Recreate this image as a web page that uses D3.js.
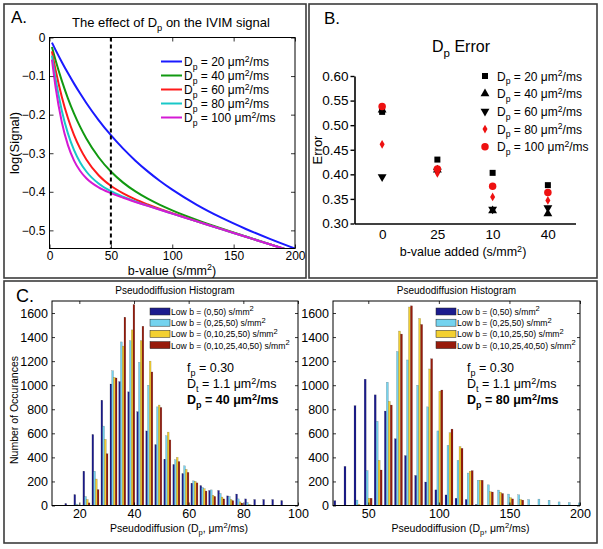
<!DOCTYPE html>
<html><head><meta charset="utf-8">
<script src="https://cdn.jsdelivr.net/npm/d3@7"></script>
<style>body{margin:0;background:#fff}svg{display:block;font-family:"Liberation Sans",Arial,sans-serif}</style>
</head><body>
<script>
// ---------- DATA ----------
// Panel A: log(Signal) vs b-value
const bValues = [2,5,10,15,20,25,30,40,50,60,70,80,90,100,120,140,160,180,200];
const logSignalDp20 = [-0.0133,-0.0326,-0.0633,-0.0923,-0.1196,-0.1454,-0.1697,-0.2140,-0.2533,-0.2882,-0.3193,-0.3471,-0.3720,-0.3945,-0.4338,-0.4672,-0.4964,-0.5227,-0.5471];
const logSignalDp40 = [-0.0248,-0.0596,-0.1119,-0.1576,-0.1973,-0.2318,-0.2618,-0.3104,-0.3475,-0.3762,-0.3991,-0.4179,-0.4339,-0.4480,-0.4727,-0.4949,-0.5158,-0.5363,-0.5565];
const logSignalDp60 = [-0.0360,-0.0847,-0.1535,-0.2088,-0.2530,-0.2881,-0.3162,-0.3570,-0.3845,-0.4043,-0.4198,-0.4328,-0.4446,-0.4555,-0.4764,-0.4966,-0.5167,-0.5367,-0.5567];
const logSignalDp80 = [-0.0468,-0.1080,-0.1890,-0.2485,-0.2921,-0.3239,-0.3474,-0.3787,-0.3985,-0.4129,-0.4250,-0.4359,-0.4463,-0.4565,-0.4767,-0.4967,-0.5167,-0.5367,-0.5567];
const logSignalDp100 = [-0.0574,-0.1296,-0.2189,-0.2790,-0.3192,-0.3462,-0.3649,-0.3886,-0.4036,-0.4155,-0.4263,-0.4365,-0.4467,-0.4567,-0.4767,-0.4967,-0.5167,-0.5367,-0.5567];
const dpLabels = ["20","40","60","80","100"];
const xTicksA = [0,50,100,150,200];
const yTicksA = [0,-0.1,-0.2,-0.3,-0.4,-0.5];
const markerB = 50;

// Panel B: Dp error
const errCategories = ["0","25","10","40"];
const errDp20 = [0.527,0.430,0.403,0.378];
const errDp40 = [0.531,0.409,0.326,0.320];
const errDp60 = [0.395,0.406,0.329,0.332];
const errDp80 = [0.461,0.402,0.354,0.347];
const errDp100 = [0.538,0.411,0.376,0.363];
const yTicksB = [0.30,0.35,0.40,0.45,0.50,0.55,0.60];

// Panel C: histograms
const lowBLabels = ["(0,50)","(0,25,50)","(0,10,25,50)","(0,10,25,40,50)"];
const binsLeft = [16.0,19.3,22.6,25.9,29.2,32.5,35.7,39.0,42.3,45.6,48.9,52.2,55.5,58.8,62.1,65.4,68.6,71.9,75.2,78.5,81.8,85.1,88.4,91.7,95.0];
const countLeftB050 = [16,90,285,590,875,1010,1030,945,780,620,505,385,340,265,185,165,125,125,80,95,55,50,50,50,40];
const countLeftB02550 = [0,12,75,285,660,1120,1360,1370,1190,1000,820,580,380,330,205,150,130,100,75,55,25,0,0,0,0];
const countLeftB0102550 = [0,5,50,220,550,1065,1325,1460,1370,1200,835,610,400,300,200,140,85,70,50,30,10,0,0,0,0];
const countLeftB010254050 = [0,0,22,132,430,1060,1565,1670,1490,1110,815,545,365,275,188,120,75,55,40,20,5,0,0,0,0];
const binsRight = [28.4,35.6,42.7,49.9,57.0,64.2,71.4,78.5,85.7,92.8,100.0,107.2,114.3,121.5,128.6,135.8,143.0,150.1,157.3,164.4,171.6,178.8,185.9,193.1,200.2];
const countRightB050 = [40,325,830,1050,920,785,555,415,250,195,130,88,60,50,8,0,0,0,0,0,0,0,0,0,0];
const countRightB02550 = [0,0,45,290,700,1025,1280,1210,1000,820,620,500,375,270,210,172,128,95,89,50,53,44,30,25,22];
const countRightB0102550 = [0,0,10,60,375,865,1450,1650,1555,1135,950,605,490,285,210,115,110,65,50,0,0,0,0,0,0];
const countRightB010254050 = [0,0,0,60,295,835,1425,1660,1505,1220,960,635,475,290,210,112,100,55,45,0,0,0,0,0,0];
const yTicksC = [0,200,400,600,800,1000,1200,1400,1600];
const xTicksLeft = [20,40,60,80,100];
const xTicksRight = [50,100,150,200];

// ---------- DRAW ----------
const W = 603, H = 549;
const svg = d3.select("body").append("svg").attr("width", W).attr("height", H);
const defs = svg.append("defs");
const lineColors = ["#1a1aff","#119911","#ff1a1a","#19c8c8","#d41ad4"];
const barColors = ["#1c1c8e","#74d3ef","#f3d030","#981b0c"];

// panel frames
const frame = svg.append("g").attr("fill","none").attr("stroke","#3c3c3c").attr("stroke-width",1.6);
frame.append("rect").attr("x",4).attr("y",4).attr("width",302).attr("height",274);
frame.append("rect").attr("x",309).attr("y",4).attr("width",288).attr("height",274);
frame.append("rect").attr("x",4).attr("y",281).attr("width",593).attr("height",262);

function subText(sel, parts, size) {
  let shift = 0;
  parts.forEach(([t, mode]) => {
    const ts = sel.append("tspan").text(t);
    const target = mode === "sub" ? size*0.3 : mode === "sup" ? -size*0.35 : 0;
    if (target - shift !== 0) ts.attr("dy", target - shift);
    shift = target;
    if (mode) ts.attr("font-size", size*0.72);
  });
}

function boxAxes(g, x, y, xt, yt, fmtX, fmtY, fs, tick, padX) {
  const [x0,x1] = x.range(), [y0,y1] = y.range();
  g.append("g").attr("transform",`translate(0,${y0})`)
    .call(d3.axisBottom(x).tickValues(xt).tickSizeInner(-tick).tickSizeOuter(0).tickPadding(padX).tickFormat(fmtX));
  g.append("g").attr("transform",`translate(0,${y1})`)
    .call(d3.axisTop(x).tickValues(xt).tickSizeInner(-tick).tickSizeOuter(0).tickFormat(""));
  g.append("g").attr("transform",`translate(${x0},0)`)
    .call(d3.axisLeft(y).tickValues(yt).tickSizeInner(-tick).tickSizeOuter(0).tickPadding(4).tickFormat(fmtY));
  g.append("g").attr("transform",`translate(${x1},0)`)
    .call(d3.axisRight(y).tickValues(yt).tickSizeInner(-tick).tickSizeOuter(0).tickFormat(""));
  g.selectAll(".domain").remove();
  g.selectAll(".tick line").attr("stroke","#000").attr("stroke-width",0.8);
  g.selectAll(".tick text").attr("font-size",fs).attr("font-family","Liberation Sans, Arial, sans-serif").attr("fill","#000");
  g.append("rect").attr("x",x0).attr("y",y1).attr("width",x1-x0).attr("height",y0-y1)
    .attr("fill","none").attr("stroke","#000").attr("stroke-width",1);
}

// ===== Panel A =====
const xA = d3.scaleLinear().domain([0,200]).range([49.5,295]);
const yA = d3.scaleLinear().domain([-0.547,0]).range([248.5,37.5]);
const gA = svg.append("g");
defs.append("clipPath").attr("id","clipA").append("rect")
  .attr("x",49.5).attr("y",37.5).attr("width",245.5).attr("height",211);
const seriesA = [logSignalDp20,logSignalDp40,logSignalDp60,logSignalDp80,logSignalDp100];
const lineA = d3.line().x((d,i)=>xA(bValues[i])).y(d=>yA(d)).curve(d3.curveMonotoneX);
gA.append("g").attr("clip-path","url(#clipA)").selectAll("path").data(seriesA).join("path")
  .attr("d", lineA).attr("fill","none").attr("stroke",(d,i)=>lineColors[i]).attr("stroke-width",2);
gA.append("line").attr("x1",xA(markerB)).attr("x2",xA(markerB)).attr("y1",yA.range()[1]).attr("y2",yA.range()[0])
  .attr("stroke","#000").attr("stroke-width",2).attr("stroke-dasharray","4,3");
boxAxes(gA, xA, yA, xTicksA, yTicksA, d3.format("d"), d=> d===0?"0":d3.format(".1f")(d), 12, 4, 3);
dpLabels.forEach((lab,i)=>{
  const yy = 61.5 + i*14;
  gA.append("line").attr("x1",161).attr("x2",182).attr("y1",yy).attr("y2",yy).attr("stroke",lineColors[i]).attr("stroke-width",2);
  const t = gA.append("text").attr("x",184).attr("y",yy+4.5).attr("font-size",12);
  subText(t, [["D",null],["p","sub"],[` = ${lab} μm`,null],["2","sup"],["/ms",null]], 12);
});
{
  const t = gA.append("text").attr("x",171).attr("y",27).attr("text-anchor","middle").attr("font-size",13);
  subText(t, [["The effect of D",null],["p","sub"],[" on the IVIM signal",null]], 13);
}
gA.append("text").attr("x",11).attr("y",23).attr("font-size",17).text("A.");
gA.append("text").attr("transform","translate(19,143) rotate(-90)").attr("text-anchor","middle").attr("font-size",13).text("log(Signal)");
{
  const t = gA.append("text").attr("x",172).attr("y",274.5).attr("text-anchor","middle").attr("font-size",12.5);
  subText(t, [["b-value (s/mm",null],["2","sup"],[")",null]], 12.5);
}

// ===== Panel B =====
const xB = d3.scalePoint().domain(errCategories).range([354.5,575.5]).padding(0.5);
const yB = d3.scaleLinear().domain([0.30,0.60]).range([223.5,76]);
const gB = svg.append("g");
gB.append("g").attr("transform","translate(0,223.5)")
  .call(d3.axisBottom(xB).tickSize(0).tickPadding(6));
gB.append("g").attr("transform","translate(354.5,0)")
  .call(d3.axisLeft(yB).tickValues(yTicksB).tickSizeInner(4).tickSizeOuter(0).tickPadding(2).tickFormat(d3.format(".2f")));
gB.selectAll(".domain").attr("stroke","#000").attr("stroke-width",1.6);
gB.selectAll(".tick line").attr("stroke","#000").attr("stroke-width",1.4);
gB.selectAll(".tick text").attr("font-size",13.5).attr("font-family","Liberation Sans, Arial, sans-serif").attr("fill","#000");
const seriesB = [errDp20,errDp40,errDp60,errDp80,errDp100];
const symB = [
  {type:d3.symbolSquare,size:36,color:"#000",rot:0},
  {type:d3.symbolTriangle,size:34,color:"#000",rot:0},
  {type:d3.symbolTriangle,size:34,color:"#000",rot:180},
  {type:d3.symbolDiamond,size:22,color:"#ee1111",rot:0},
  {type:d3.symbolCircle,size:44,color:"#ee1111",rot:0}
];
[1,2,0,3,4].forEach(si=>{
  const s = symB[si];
  gB.append("g").selectAll("path").data(seriesB[si]).join("path")
    .attr("d", d3.symbol().type(s.type).size(s.size))
    .attr("transform",(d,i)=>`translate(${xB(errCategories[i])},${yB(d)}) rotate(${s.rot})`)
    .attr("fill",s.color);
});
dpLabels.forEach((lab,i)=>{
  const yy = 76 + i*17.7, s = symB[i];
  gB.append("path").attr("d",d3.symbol().type(s.type).size(s.size)).attr("fill",s.color)
    .attr("transform",`translate(485,${yy}) rotate(${s.rot})`);
  const t = gB.append("text").attr("x",497).attr("y",yy+4.5).attr("font-size",12);
  subText(t, [["D",null],["p","sub"],[` = ${lab} μm`,null],["2","sup"],["/ms",null]], 12);
});
{
  const t = gB.append("text").attr("x",461).attr("y",52).attr("text-anchor","middle").attr("font-size",16);
  subText(t, [["D",null],["p","sub"],[" Error",null]], 16);
}
gB.append("text").attr("x",324).attr("y",24).attr("font-size",17).text("B.");
gB.append("text").attr("transform","translate(322,150) rotate(-90)").attr("text-anchor","middle").attr("font-size",13).text("Error");
{
  const t = gB.append("text").attr("x",463).attr("y",256).attr("text-anchor","middle").attr("font-size",12.5);
  subText(t, [["b-value added (s/mm",null],["2","sup"],[")",null]], 12.5);
}

// ===== Panel C =====
function histogram(id, x, xt, bins, counts, legendX, annX, dpText) {
  const y = d3.scaleLinear().domain([0,1700]).range([505.5,301]);
  const g = svg.append("g");
  const [x0,x1] = x.range();
  defs.append("clipPath").attr("id",id).append("rect")
    .attr("x",x0).attr("y",301).attr("width",x1-x0).attr("height",204.5);
  const step = x(bins[1]) - x(bins[0]);
  const bw = step*0.195;
  const bars = g.append("g").attr("clip-path",`url(#${id})`);
  counts.forEach((arr,k)=>{
    bars.append("g").selectAll("rect").data(arr).join("rect")
      .attr("x",(d,i)=> x(bins[i]) + (k-2)*bw)
      .attr("width",bw)
      .attr("y",d=>y(d)).attr("height",d=>y(0)-y(d))
      .attr("fill",barColors[k]).attr("stroke","rgba(0,0,0,0.35)").attr("stroke-width",0.4);
  });
  boxAxes(g, x, y, xt, yTicksC, d3.format("d"), d3.format("d"), 12.5, 3, 4);
  lowBLabels.forEach((lab,i)=>{
    const yy = 311.5 + i*11.2;
    g.append("rect").attr("x",legendX).attr("y",yy-3.5).attr("width",20).attr("height",7)
      .attr("fill",barColors[i]).attr("stroke","#222").attr("stroke-width",0.5);
    const t = g.append("text").attr("x",legendX+21).attr("y",yy+3.5).attr("font-size",8.6);
    subText(t, [[`Low b = ${lab} s/mm`,null],["2","sup"]], 10.5);
  });
  const fs = 12.5;
  let t = g.append("text").attr("x",annX).attr("y",372).attr("font-size",fs);
  subText(t, [["f",null],["p","sub"],[" = 0.30",null]], fs);
  t = g.append("text").attr("x",annX).attr("y",388).attr("font-size",fs);
  subText(t, [["D",null],["t","sub"],[" = 1.1 μm",null],["2","sup"],["/ms",null]], fs);
  t = g.append("text").attr("x",annX).attr("y",404).attr("font-size",fs).attr("font-weight","bold");
  subText(t, [["D",null],["p","sub"],[` = ${dpText} μm`,null],["2","sup"],["/ms",null]], fs);
  g.append("text").attr("x",(x0+x1)/2).attr("y",294).attr("text-anchor","middle").attr("font-size",10).text("Pseudodiffusion Histogram");
  t = g.append("text").attr("x",(x0+x1)/2+4).attr("y",532).attr("text-anchor","middle").attr("font-size",10.5);
  subText(t, [["Pseudodiffusion (D",null],["p","sub"],[", μm",null],["2","sup"],["/ms)",null]], 10.5);
}
const xLeft = d3.scaleLinear().domain([10,100]).range([52,298]);
const xRight = d3.scaleLinear().domain([25,200]).range([333,580]);
histogram("clipL", xLeft, xTicksLeft, binsLeft, [countLeftB050,countLeftB02550,countLeftB0102550,countLeftB010254050], 150, 187, "40");
histogram("clipR", xRight, xTicksRight, binsRight, [countRightB050,countRightB02550,countRightB0102550,countRightB010254050], 436, 467, "80");
svg.append("text").attr("x",16).attr("y",302).attr("font-size",18).text("C.");
svg.append("text").attr("transform","translate(18,410) rotate(-90)").attr("text-anchor","middle").attr("font-size",10.5).text("Number of Occurances");
</script>
</body></html>
